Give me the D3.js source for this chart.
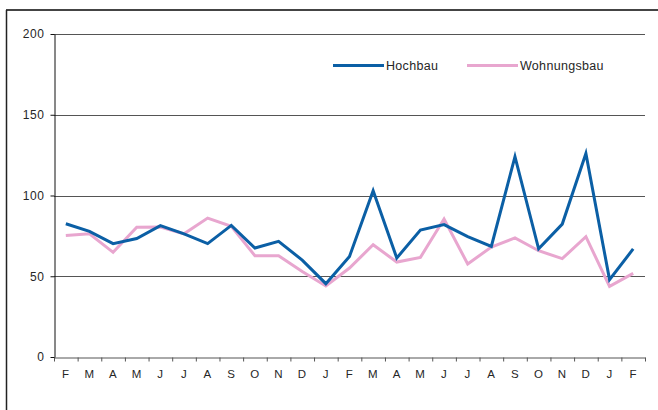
<!DOCTYPE html>
<html>
<head>
<meta charset="utf-8">
<script src="https://cdn.jsdelivr.net/npm/d3@7"></script>
<style>
  body { margin: 0; background: #fff; }
  text { font-family: "Liberation Sans", Arial, sans-serif; fill: #262626; }
</style>
</head>
<body>
<div id="chart"></div>
<script>
var svgWidth = 658;
var svgHeight = 410;

// data
var months = ["F","M","A","M","J","J","A","S","O","N","D","J","F","M","A","M","J","J","A","S","O","N","D","J","F"];
var hochbau = [82.5, 77.8, 70.2, 73.4, 81.3, 76.2, 70.2, 81.5, 67.5, 71.6, 60, 45.4, 62.3,
               103, 61.3, 78.6, 82, 74.5, 68.5, 124, 67, 82.3, 126, 47.9, 66.9];
var wohnungsbau = [75.3, 76.3, 64.8, 80.3, 80.5, 76.3, 86, 80.9, 62.7, 62.7, 53, 44, 55.1,
                   69.5, 58.8, 61.7, 85.4, 57.6, 68.1, 73.7, 65.8, 60.9, 74.5, 43.7, 51.8];
var yTicks = [0, 50, 100, 150, 200];
var gridTicks = [50, 100, 150, 200];
var seriesNames = ["Hochbau", "Wohnungsbau"];
var seriesColors = ["#0b5fa5", "#e8a6cf"];

var margin = { top: 34, right: 13, bottom: 53, left: 54 };
var width = svgWidth - margin.left - margin.right;
var height = svgHeight - margin.top - margin.bottom;

var svg = d3.select("#chart")
  .append("svg")
  .attr("width", svgWidth)
  .attr("height", svgHeight);

// outer frame (only top and left edges visible)
svg.append("line")
  .attr("x1", 6).attr("x2", svgWidth).attr("y1", 10).attr("y2", 10)
  .attr("stroke", "#444").attr("stroke-width", 2);
svg.append("line")
  .attr("x1", 6.5).attr("x2", 6.5).attr("y1", 10).attr("y2", svgHeight)
  .attr("stroke", "#222").attr("stroke-width", 1.5);

var chartGroup = svg.append("g")
  .attr("transform", `translate(${margin.left}, ${margin.top})`);

var idx = d3.range(months.length);
var xBand = d3.scaleBand().domain(idx).range([0, width]).padding(0);
var xCenter = i => xBand(i) + xBand.bandwidth() / 2;
var yLinearScale = d3.scaleLinear().domain([0, 200]).range([height, 0]);

// gridlines
chartGroup.selectAll(".grid")
  .data(gridTicks)
  .enter()
  .append("line")
  .attr("x1", 0).attr("x2", width)
  .attr("y1", d => Math.round(yLinearScale(d)) + 0.5)
  .attr("y2", d => Math.round(yLinearScale(d)) + 0.5)
  .attr("stroke", "#555").attr("stroke-width", 1);

// x axis: labels centred in bands, ticks at band edges
var bottomAxis = d3.axisBottom(xBand)
  .tickSize(0)
  .tickPadding(13)
  .tickFormat(i => months[i]);
var xAxis = chartGroup.append("g")
  .attr("transform", `translate(0, ${height})`)
  .call(bottomAxis);
xAxis.select(".domain").remove();
xAxis.selectAll("text")
  .attr("font-size", 11.5)
  .attr("letter-spacing", 0.5)
  .style("font-family", "'Liberation Sans', Arial, sans-serif")
  .attr("fill", "#333");

var edges = d3.range(months.length + 1);
var edgeScale = d3.scaleLinear().domain([0, months.length]).range([0, width]);
var tickAxis = d3.axisBottom(edgeScale)
  .tickValues(edges)
  .tickSize(4)
  .tickSizeOuter(0)
  .tickFormat("");
chartGroup.append("g")
  .attr("transform", `translate(0, ${Math.round(height) + 0.5})`)
  .call(tickAxis)
  .call(g => g.selectAll("path, line").attr("stroke", "#555"));

// y axis
var leftAxis = d3.axisLeft(yLinearScale)
  .tickValues(yTicks)
  .tickSize(4)
  .tickSizeOuter(0)
  .tickPadding(6);
var yAxis = chartGroup.append("g")
  .attr("transform", "translate(0.5, 0)")
  .call(leftAxis);
yAxis.selectAll("path, line").attr("stroke", "#111");
yAxis.selectAll("text")
  .attr("font-size", 12)
  .attr("letter-spacing", 0.6)
  .style("font-family", "'Liberation Sans', Arial, sans-serif")
  .attr("fill", "#262626");

// lines
var lineGen = d3.line()
  .x((d, i) => xCenter(i))
  .y(d => yLinearScale(d));

[wohnungsbau, hochbau].forEach(function(series, k) {
  chartGroup.append("path")
    .datum(series)
    .attr("fill", "none")
    .attr("stroke", k === 0 ? seriesColors[1] : seriesColors[0])
    .attr("stroke-width", 3)
    .attr("stroke-linejoin", "miter")
    .attr("d", lineGen);
});

// legend
var legendX = [333, 467];
seriesNames.forEach(function(name, i) {
  svg.append("line")
    .attr("x1", legendX[i]).attr("x2", legendX[i] + 51)
    .attr("y1", 65.5).attr("y2", 65.5)
    .attr("stroke", seriesColors[i]).attr("stroke-width", 3);
  svg.append("text")
    .attr("x", legendX[i] + 53)
    .attr("y", 70)
    .attr("font-size", 12.5)
    .attr("letter-spacing", 0.3)
    .text(name);
});
</script>
</body>
</html>
